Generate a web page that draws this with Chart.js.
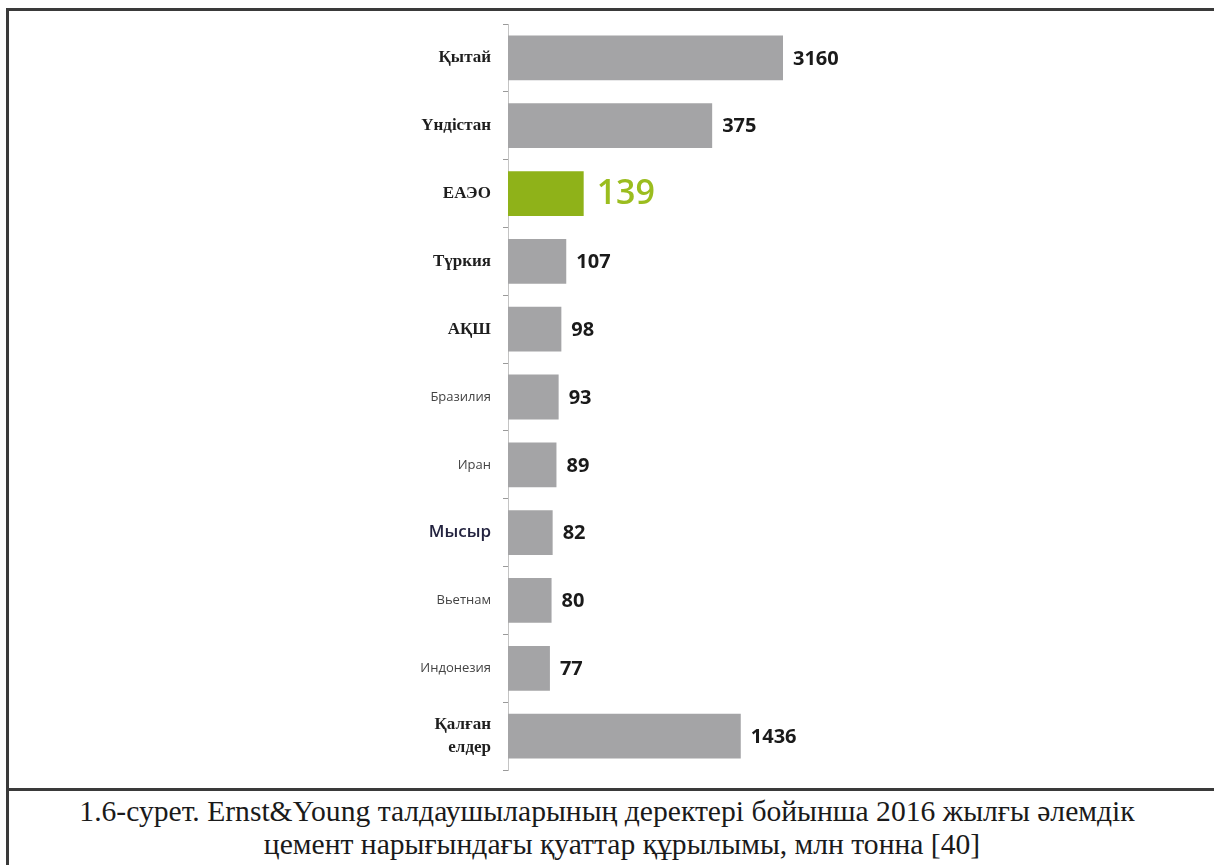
<!DOCTYPE html>
<html lang="kk">
<head>
<meta charset="utf-8">
<title>Әлемдік цемент нарығындағы қуаттар құрылымы, 2016</title>
<script src="https://cdn.jsdelivr.net/npm/chart.js@4.4.1/dist/chart.umd.min.js"></script>
<style>
  html, body { margin: 0; padding: 0; background: #ffffff; }
  body { width: 1214px; height: 865px; position: relative; overflow: hidden; }
  .frame-top { position: absolute; left: 6px; top: 8px; right: 0; height: 0; border-top: 3px solid #3a3a3a; }
  .frame-left { position: absolute; left: 6px; top: 8px; bottom: 0; width: 0; border-left: 3px solid #3a3a3a; }
  .frame-sep { position: absolute; left: 6px; top: 788px; right: 0; height: 0; border-top: 3px solid #3a3a3a; }
  #wrap { position: absolute; left: 8px; top: 10px; width: 1206px; height: 779px; }
  .caption {
    position: absolute; left: 0; width: 1214px;
    font-family: "Liberation Serif", "Times New Roman", serif;
    font-size: 29.6px; line-height: 33px; color: #1a1a1a; text-align: center;
    white-space: nowrap;
  }
  .caption.l1 { top: 795px; }
  .caption.l2 { top: 828px; left: 15px; }
</style>
</head>
<body>
<div class="frame-top"></div>
<div class="frame-left"></div>
<div class="frame-sep"></div>
<div id="wrap"><canvas id="chart"></canvas></div>
<div class="caption l1">1.6-сурет. Ernst&amp;Young талдаушыларының деректері бойынша 2016 жылғы әлемдік</div>
<div class="caption l2">цемент нарығындағы қуаттар құрылымы, млн тонна [40]</div>

<script>
// Cement capacity by country, 2016, million tonnes
const countries = [
  'Қытай', 'Үндістан', 'ЕАЭО', 'Түркия', 'АҚШ', 'Бразилия',
  'Иран', 'Мысыр', 'Вьетнам', 'Индонезия', ['Қалған', 'елдер']
];
const capacity = [3160, 375, 139, 107, 98, 93, 89, 82, 80, 77, 1436];
const highlighted = 'ЕАЭО';

// Labels set in the bold serif face; the rest use a plain sans face
const serifLabels = ['Қытай', 'Үндістан', 'ЕАЭО', 'Түркия', 'АҚШ', 'Қалған'];

// Linear axis with a compressed tail: values above the break are squeezed
// so the two very large bars stay on the page.
class BrokenLinearScale extends Chart.LinearScale {
  squash(v) {
    const b = this.options.axisBreak || { at: Infinity, ratio: 1 };
    return v <= b.at ? v : b.at + (v - b.at) * b.ratio;
  }
  getPixelForValue(value) {
    if (value === null || value === undefined) return NaN;
    const lo = this.squash(this.min);
    const hi = this.squash(this.max);
    return this.getPixelForDecimal((this.squash(value) - lo) / (hi - lo));
  }
}
BrokenLinearScale.id = 'brokenLinear';
BrokenLinearScale.defaults = Chart.LinearScale.defaults;
Chart.register(BrokenLinearScale);

const GREY = '#a4a4a6';
const GREEN = '#8fb219';
const GREEN_TEXT = '#9bbd1f';

const labelName = (i) => {
  const l = countries[i];
  return Array.isArray(l) ? l[0] : l;
};

// Value labels next to each bar end
const valueLabels = {
  id: 'valueLabels',
  afterDatasetsDraw(chart) {
    const ctx = chart.ctx;
    const meta = chart.getDatasetMeta(0);
    ctx.save();
    ctx.textBaseline = 'middle';
    ctx.textAlign = 'left';
    meta.data.forEach((bar, i) => {
      const v = chart.data.datasets[0].data[i];
      const hot = labelName(i) === highlighted;
      ctx.fillStyle = hot ? GREEN_TEXT : '#1a1a1a';
      ctx.font = hot ? '600 34px "Open Sans"' : 'bold 20px "Open Sans"';
      ctx.fillText(String(v), bar.x + (hot ? 13 : 10), bar.y + 1);
    });
    ctx.restore();
  }
};

new Chart(document.getElementById('chart'), {
  type: 'bar',
  data: {
    labels: countries,
    datasets: [{
      data: capacity,
      backgroundColor: (c) => labelName(c.dataIndex) === highlighted ? GREEN : GREY,
      borderWidth: 0,
      barPercentage: 0.66,
      categoryPercentage: 1.0
    }]
  },
  options: {
    indexAxis: 'y',
    responsive: true,
    maintainAspectRatio: false,
    animation: false,
    layout: { padding: { left: 0, right: 431, top: 14, bottom: 19 } },
    plugins: {
      legend: { display: false },
      tooltip: { enabled: false }
    },
    scales: {
      x: {
        type: 'brokenLinear',
        display: false,
        min: 0,
        max: Math.max(...capacity),
        axisBreak: { at: 380, ratio: 0.045 }
      },
      y: {
        afterFit: (scale) => {
          scale.width = 500;
          scale.paddingTop = 0;
          scale.paddingBottom = 0;
        },
        border: { display: true, color: '#c4c4c4', width: 1 },
        grid: {
          display: true,
          drawOnChartArea: false,
          drawTicks: true,
          tickLength: 5,
          offset: true,
          color: '#9a9a9a'
        },
        ticks: {
          padding: 12,
          color: (c) => {
            const n = labelName(c.index);
            if (n === 'Мысыр') return '#23233f';
            return serifLabels.includes(n) ? '#1e1e1e' : '#444444';
          },
          font: (c) => {
            const n = labelName(c.index);
            if (n === 'Мысыр') return { family: '"Open Sans"', size: 17, weight: '600' };
            if (serifLabels.includes(n)) return { family: '"Liberation Serif"', size: 17, weight: 'bold', lineHeight: 1.35 };
            return { family: '"Open Sans"', size: 13, weight: 'normal' };
          }
        }
      }
    }
  },
  plugins: [valueLabels]
});
</script>
</body>
</html>
